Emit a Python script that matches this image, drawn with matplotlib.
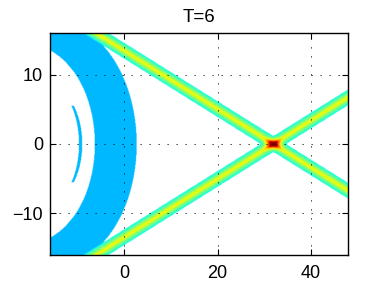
import numpy as np
import matplotlib
matplotlib.use('Agg')
import matplotlib.pyplot as plt

plt.rcParams['font.family'] = ['Liberation Sans', 'DejaVu Sans']

# ---- values ----
title = 'T=6'
xlim = [-16, 48]
ylim = [-16, 16]
xticks = [0, 20, 40]
yticks = [-10, 0, 10]

cross_x = 32.0            # where the two beams meet
cross_y = 0.0
beam_slopes = [-0.42, 0.42]
beam_width = 1.75         # decay length of the beam profile
beam_peak = 0.80
cross_boost = 0.55        # extra height right at the crossing
cross_width = 1.3
cut = 0.44                # anything weaker is left white
vmax = 1.2

shell_outer = [-15.0, 17.6]   # centre x, radius
shell_inner = [-20.7, 14.3]
arc_outer = [-18.4, 9.3]
arc_inner = [-20.0, 10.2]
arc_ymax = 5.5
shell_level = 0.37

# ---- build the field ----
x = np.linspace(xlim[0], xlim[1], 640)
y = np.linspace(ylim[0], ylim[1], 400)
X, Y = np.meshgrid(x, y)

dists = []
for m in beam_slopes:
    dists.append(np.abs(Y - cross_y - m * (X - cross_x)) / np.sqrt(1 + m * m))
d1, d2 = dists
Z = beam_peak * np.exp(-np.minimum(d1, d2) / beam_width)
Z = Z + cross_boost * np.exp(-2.5 * (d1 ** 2 + d2 ** 2) / cross_width ** 2)


def inside(c, Xg, Yg):
    return (Xg - c[0]) ** 2 + Yg ** 2 < c[1] ** 2


shell = inside(shell_outer, X, Y) & ~inside(shell_inner, X, Y)
arc = inside(arc_outer, X, Y) & ~inside(arc_inner, X, Y) & (np.abs(Y) < arc_ymax)
blob = shell | arc

Z = np.where(blob & (Z < cut), shell_level, Z)
Z = np.ma.masked_where((Z < cut) & ~blob, Z)

cmap = plt.get_cmap('jet').copy()
cmap.set_bad('white')

fig = plt.figure(figsize=(3.84, 2.88), dpi=100)
ax = fig.add_axes([0.130, 0.115, 0.776, 0.770])
ax.imshow(Z, origin='lower', extent=[xlim[0], xlim[1], ylim[0], ylim[1]],
          aspect='auto', cmap=cmap, vmin=0, vmax=vmax, interpolation='bilinear')

ax.set_xlim(xlim)
ax.set_ylim(ylim)
ax.set_xticks(xticks)
ax.set_yticks(yticks)
ax.tick_params(direction='in', top=True, right=True, length=4, labelsize=13)
ax.tick_params(axis='x', pad=7)
ax.tick_params(axis='y', pad=5)
ax.grid(True, linestyle=(0, (1.5, 9.3)), color='k', linewidth=0.6)
ax.set_axisbelow(False)
for s in ax.spines.values():
    s.set_linewidth(1.0)
ax.set_title(title, fontsize=13.5, pad=8)

fig.savefig('out.png', dpi=100)
